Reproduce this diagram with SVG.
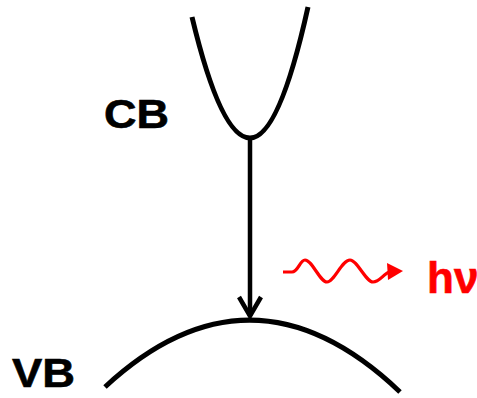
<svg xmlns="http://www.w3.org/2000/svg" width="477" height="398" viewBox="0 0 477 398">
<style>
.curve{fill:none;stroke:#000;stroke-width:5;stroke-linecap:butt}
.lbl{font-family:"Liberation Sans",Arial,sans-serif;font-weight:bold;font-size:40px;fill:#000;stroke:#000;stroke-width:0.6}
.red{fill:#ff0000;stroke:#ff0000}
</style>
<rect width="477" height="398" fill="#fff"/>
<g id="CB">
<path class="curve" d="M192,17 Q221,138 250,138 Q279,138 308,7"/>
<text class="lbl" x="104" y="128" textLength="65" lengthAdjust="spacingAndGlyphs">CB</text>
</g>
<g id="VB">
<path class="curve" d="M105,387 Q252,251 400,392"/>
<text class="lbl" x="12" y="387" textLength="63" lengthAdjust="spacingAndGlyphs">VB</text>
</g>
<g id="connectors">
<line x1="250" y1="138" x2="250" y2="316" stroke="#000" stroke-width="4.5"/>
<polyline points="239,297 250,316 261,297" fill="none" stroke="#000" stroke-width="4.5"/>
<path d="M283,272 L292,272 C298,272 300,260 305,260 C312,260 320,282 327,282 C334,282 342,260 350,260 C357,260 366,282 373,282 C380,282 383,274 391,271" fill="none" stroke="#ff0000" stroke-width="3.2"/>
<polygon points="387,263 403,271 388,280" fill="#ff0000"/>
</g>
<g id="photon">
<text class="lbl red" x="427" y="293" style="font-size:44px">hν</text>
</g>
</svg>
